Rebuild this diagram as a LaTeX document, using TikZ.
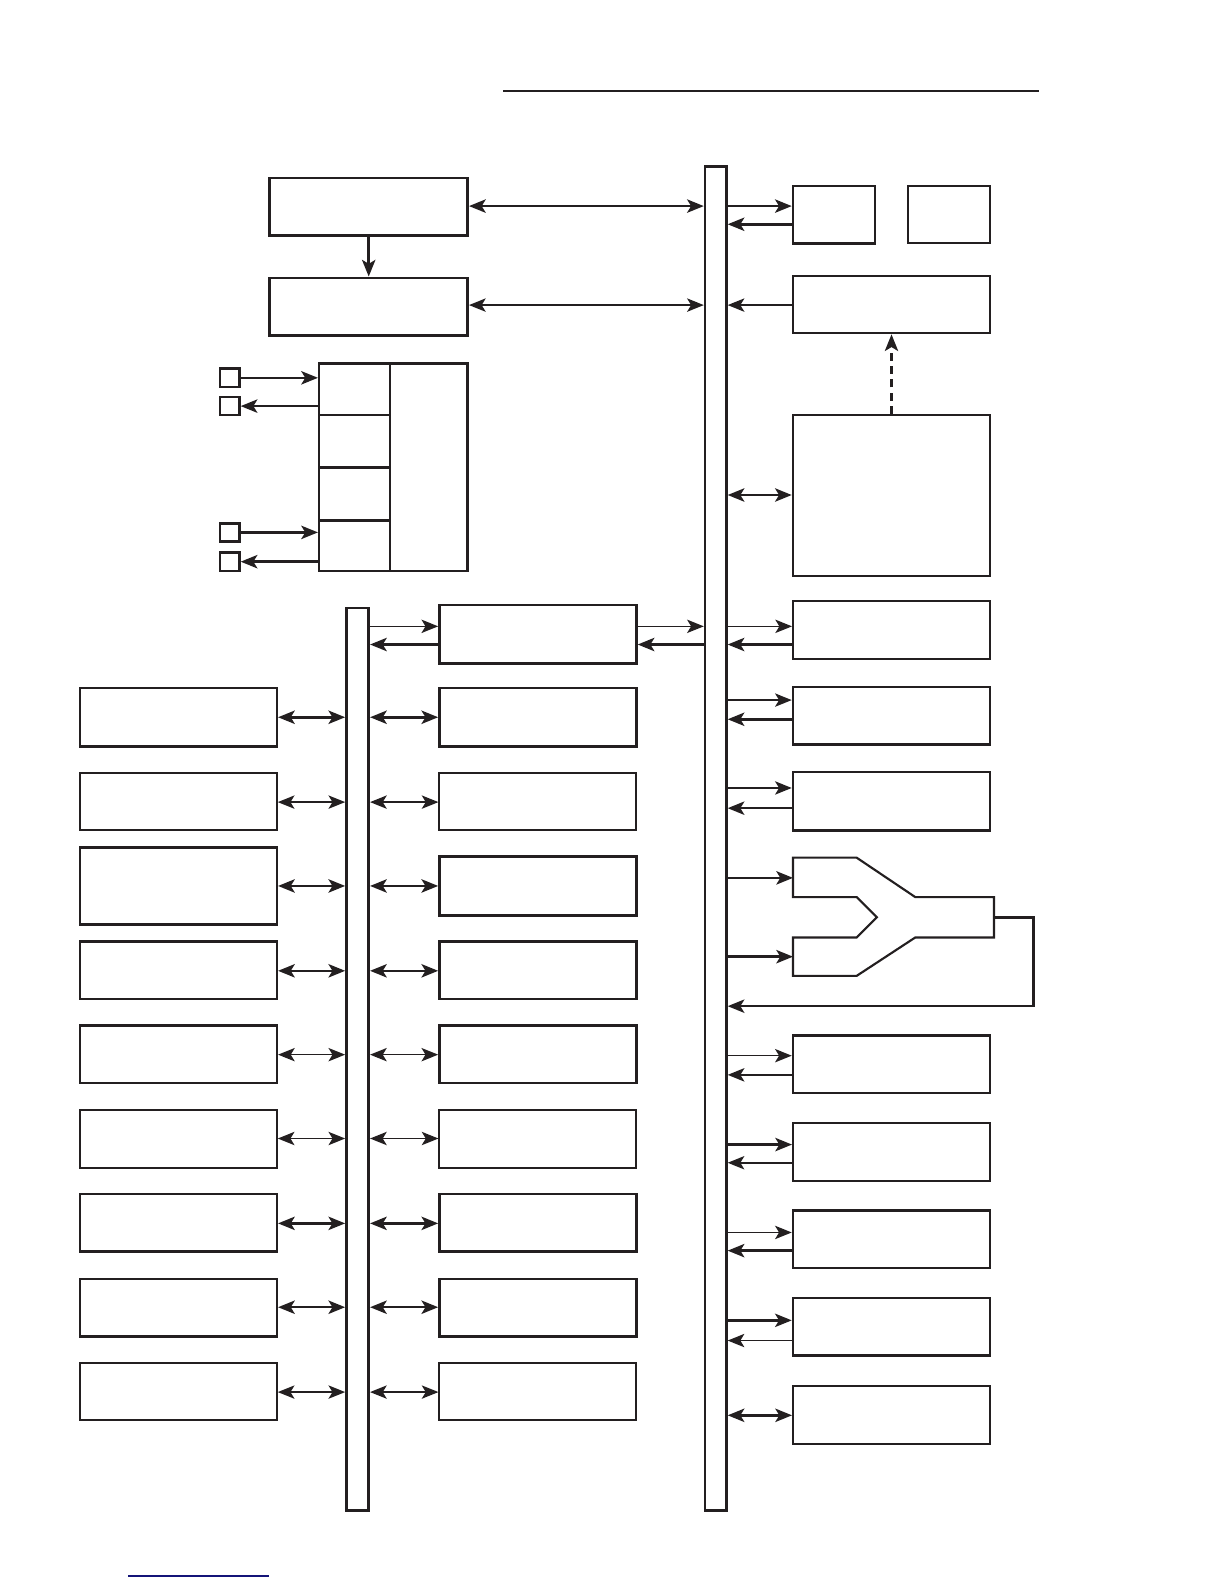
\documentclass[tikz,border=0pt]{standalone}
\usetikzlibrary{arrows.meta,fit}
\definecolor{ink}{RGB}{35,31,32}
\begin{document}
\begin{tikzpicture}[x=0.7574pt,y=-0.7574pt,color=ink]
\tikzset{
 blk/.style={draw, line width=1.9pt, inner sep=0pt},
 thinblk/.style={draw, line width=1.5pt, inner sep=0pt},
 busbar/.style={draw, line width=2pt, inner sep=0pt},
 tk/.style={line width=1.9pt},
 tn/.style={line width=1.15pt},
 >={Stealth[length=12.5pt,width=10pt,inset=3pt]}
}
\useasboundingbox (0,0) rectangle (1212,1568);
% rules
\coordinate (rl1) at (498,90);
\coordinate (rl2) at (1028,90);
\draw[line width=0.9pt] (rl1) -- (rl2);
\coordinate (bl1) at (127,1560);
\coordinate (bl2) at (266,1560);
\draw[line width=1pt, color={rgb,255:red,20;green,20;blue,120}] (bl1) -- (bl2);
% buses
\node[busbar, fit={(698,165)(719,1495)}] (mb) {};
\node[busbar, fit={(343,602)(365,1495)}] (lb) {};
% top left boxes
\node[blk, fit={(267,176)(463,233)}] (A) {};
\node[blk, fit={(267,275)(463,332)}] (B) {};
\draw[tk,->] (A.south) -- (B.north);
\draw[tk,<->] (A.east |- 0,204) -- (mb.west |- 0,204);
\draw[line width=1.4pt,<->] (B.east |- 0,302) -- (mb.west |- 0,302);
% top right
\node[blk, fit={(785,184)(866,241)}] (C1) {};
\node[thinblk, fit={(899,184)(980,241)}] (C2) {};
\draw[tk,->] (mb.east |- 0,204) -- (C1.west |- 0,204);
\draw[tk,<-] (mb.east |- 0,222) -- (C1.west |- 0,222);
\node[thinblk, fit={(785,273)(980,330)}] (D) {};
\draw[line width=1.4pt,<-] (mb.east |- 0,302) -- (D.west |- 0,302);
\node[blk, fit={(785,411)(980,570)}] (E) {};
\draw[line width=1.6pt,dash pattern=on 6pt off 4pt,->] (E.north) -- (D.south);
\draw[tk,<->] (mb.east |- 0,490) -- (E.west |- 0,490);
% stack
\node[blk, fit={(316,360)(386,411)}] (s1) {};
\node[blk, fit={(316,411)(386,463)}] (s2) {};
\node[blk, fit={(316,463)(386,515)}] (s3) {};
\node[blk, fit={(316,515)(386,565)}] (s4) {};
\node[blk, fit={(386,360)(463,565)}] (sR) {};
\node[blk, fit={(218,365)(237,383)}] (q1) {};
\node[blk, fit={(218,393)(237,411)}] (q2) {};
\node[blk, fit={(218,518)(237,536)}] (q3) {};
\node[blk, fit={(218,547)(237,565)}] (q4) {};
\draw[tk,->] (q1.east) -- (s1.west |- q1.east);
\draw[tk,<-] (q2.east) -- (s1.west |- q2.east);
\draw[tk,->] (q3.east) -- (s4.west |- q3.east);
\draw[tk,<-] (q4.east) -- (s4.west |- q4.east);
% F box
\node[blk, fit={(435,599)(630,657)}] (F) {};
\draw[tn,->] (lb.east |- 0,620) -- (F.west |- 0,620);
\draw[tk,<-] (lb.east |- 0,638) -- (F.west |- 0,638);
\draw[tn,->] (F.east |- 0,620) -- (mb.west |- 0,620);
\draw[tk,<-] (F.east |- 0,638) -- (mb.west |- 0,638);
% right G boxes
\node[thinblk, fit={(785,595)(980,652)}] (G1) {};
\draw[tn,->] (mb.east |- 0,620) -- (G1.west |- 0,620);
\draw[tk,<-] (mb.east |- 0,638) -- (G1.west |- 0,638);
\node[blk, fit={(785,680)(980,737)}] (G2) {};
\draw[tn,->] (mb.east |- 0,693) -- (G2.west |- 0,693);
\draw[tk,<-] (mb.east |- 0,712) -- (G2.west |- 0,712);
\node[blk, fit={(785,764)(980,822)}] (G3) {};
\draw[tn,->] (mb.east |- 0,780) -- (G3.west |- 0,780);
\draw[tk,<-] (mb.east |- 0,800) -- (G3.west |- 0,800);
% Y shape
\draw[line width=1.6pt, line join=miter] (785,849) -- (848,849) -- (906,888) -- (984,888) -- (984,928) -- (906,928) -- (848,966) -- (785,966) -- (785,928) -- (848,928) -- (868,908) -- (848,888) -- (785,888) -- cycle;
\coordinate (yin1) at (785,869);
\coordinate (yin2) at (785,947);
\coordinate (yout) at (984,908);
\coordinate (yc1) at (1023,908);
\coordinate (yc2) at (1023,996);
\draw[tk,->] (mb.east |- yin1) -- (yin1);
\draw[tk,->] (mb.east |- yin2) -- (yin2);
\draw[tk,->] (yout) -- (yc1) -- (yc2) -- (mb.east |- yc2);
% right H boxes
\node[blk, fit={(785,1025)(980,1082)}] (H1) {};
\draw[tn,->] (mb.east |- 0,1045) -- (H1.west |- 0,1045);
\draw[tk,<-] (mb.east |- 0,1064) -- (H1.west |- 0,1064);
\node[thinblk, fit={(785,1112)(980,1169)}] (H2) {};
\draw[tk,->] (mb.east |- 0,1133) -- (H2.west |- 0,1133);
\draw[tn,<-] (mb.east |- 0,1151) -- (H2.west |- 0,1151);
\node[blk, fit={(785,1198)(980,1255)}] (H3) {};
\draw[tn,->] (mb.east |- 0,1220) -- (H3.west |- 0,1220);
\draw[tk,<-] (mb.east |- 0,1238) -- (H3.west |- 0,1238);
\node[blk, fit={(785,1285)(980,1342)}] (H4) {};
\draw[tk,->] (mb.east |- 0,1307) -- (H4.west |- 0,1307);
\draw[tn,<-] (mb.east |- 0,1327) -- (H4.west |- 0,1327);
\node[thinblk, fit={(785,1372)(980,1429)}] (H5) {};
\draw[tk,<->] (mb.east |- 0,1401) -- (H5.west |- 0,1401);
% left column
\node[blk, fit={(79,681)(274,739)}] (L1) {};
\node[thinblk, fit={(79,765)(274,822)}] (L2) {};
\node[blk, fit={(79,839)(274,915)}] (L3) {};
\node[blk, fit={(79,932)(274,989)}] (L4) {};
\node[blk, fit={(79,1015)(274,1072)}] (L5) {};
\node[thinblk, fit={(79,1099)(274,1156)}] (L6) {};
\node[blk, fit={(79,1182)(274,1239)}] (L7) {};
\node[blk, fit={(79,1266)(274,1323)}] (L8) {};
\node[thinblk, fit={(79,1349)(274,1406)}] (L9) {};
% middle column
\node[blk, fit={(435,681)(630,739)}] (M1) {};
\node[thinblk, fit={(435,765)(630,822)}] (M2) {};
\node[blk, fit={(435,848)(630,906)}] (M3) {};
\node[blk, fit={(435,932)(630,989)}] (M4) {};
\node[blk, fit={(435,1015)(630,1072)}] (M5) {};
\node[thinblk, fit={(435,1099)(630,1156)}] (M6) {};
\node[blk, fit={(435,1182)(630,1239)}] (M7) {};
\node[blk, fit={(435,1266)(630,1323)}] (M8) {};
\node[thinblk, fit={(435,1349)(630,1406)}] (M9) {};
% double arrows
\foreach \i/\yy/\st in {1/710/tk,2/794/tn,3/877/tk,4/961/tk,5/1044/tn,6/1127/tn,7/1211/tk,8/1294/tk,9/1378/tn}{
  \draw[\st,<->] (L\i.east |- 0,\yy) -- (lb.west |- 0,\yy);
  \draw[\st,<->] (lb.east |- 0,\yy) -- (M\i.west |- 0,\yy);
}
\end{tikzpicture}
\end{document}
